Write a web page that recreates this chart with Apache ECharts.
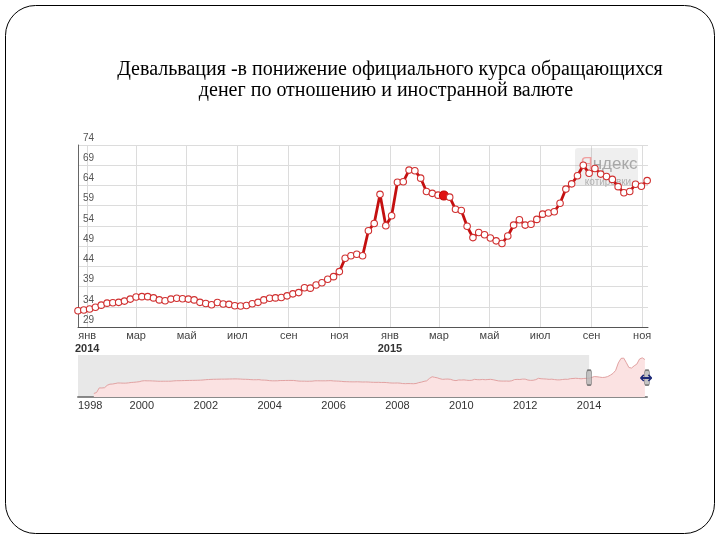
<!DOCTYPE html>
<html><head><meta charset="utf-8">
<script src="https://cdn.jsdelivr.net/npm/echarts@6/dist/echarts.min.js"></script>
<style>html,body{margin:0;padding:0;background:#fff}#c{width:720px;height:540px}</style>
</head><body><div id="c"></div>
<script>
// ---------- data ----------
const TITLE_LINES = ['Девальвация -в понижение официального курса обращающихся', 'денег по отношению и иностранной валюте'];
const MONTH_NAMES = ['янв','фев','мар','апр','май','июн','июл','авг','сен','окт','ноя','дек'];
const MAIN_TICKS = ['2014-01-01','2014-03-01','2014-05-01','2014-07-01','2014-09-01','2014-11-01',
                    '2015-01-01','2015-03-01','2015-05-01','2015-07-01','2015-09-01','2015-11-01'];
const MAIN_RANGE = ['2013-12-21','2015-11-08'];
const Y_MIN = 29, Y_MAX = 74, Y_STEP = 5;
const WEEK_START = '2013-12-21';
const WEEKLY_RATE = [
  33.0, 33.2, 33.45, 33.9, 34.4, 34.9, 35.0, 35.1, 35.4, 35.9,
  36.4, 36.5, 36.5, 36.2, 35.7, 35.5, 35.9, 36.1, 36.0, 35.9,
  35.7, 35.1, 34.8, 34.5, 35.05, 34.7, 34.6, 34.25, 34.2, 34.3,
  34.75, 35.1, 35.7, 36.1, 36.2, 36.3, 36.7, 37.2, 37.5, 38.7,
  38.6, 39.4, 39.95, 40.8, 41.45, 42.7, 46.0, 46.6, 47.0, 46.6,
  52.8, 54.6, 61.8, 54.05, 56.5, 64.8, 64.9, 67.8, 67.65, 65.8,
  62.5, 62.05, 61.6, 61.5, 61.1, 58.1, 57.8, 53.9, 51.1, 52.35,
  51.8, 51.0, 50.3, 49.65, 51.5, 54.2, 55.5, 54.2, 54.4, 55.6,
  56.9, 57.2, 57.5, 59.6, 63.1, 64.4, 66.4, 69.0, 67.0, 68.2,
  66.8, 66.2, 65.5, 63.7, 62.2, 62.5, 64.3, 63.8, 65.2
];
const HIGHLIGHT_INDEX = 63;

const NAV_YEARS = [1998, 2000, 2002, 2004, 2006, 2008, 2010, 2012, 2014];
const NAV_RANGE = ['1998-01-01', '2015-10-25'];
const NAV_SELECTED = ['2014-01-01', '2015-10-25'];
const NAV_HANDLE_LEVEL = 34;
const NAV_START = '1998-07-01';
const MONTHLY_RATE = [
  6.2, 7.9, 16.0, 15.9, 16.4, 20.6,
  22.6, 22.9, 23.7, 24.7, 24.6, 24.4, 24.4, 24.9, 25.6, 25.9, 26.4, 26.9,
  28.2, 28.7, 28.5, 28.5, 28.3, 28.1, 27.8, 27.7, 27.8, 27.8, 27.8, 27.9,
  28.4, 28.7, 28.7, 28.8, 29.0, 29.1, 29.2, 29.3, 29.4, 29.5, 29.7, 30.0,
  30.5, 30.8, 31.0, 31.2, 31.3, 31.4, 31.5, 31.5, 31.6, 31.7, 31.8, 31.9,
  31.8, 31.6, 31.3, 31.2, 31.0, 30.6, 30.4, 30.4, 30.6, 29.9, 29.8, 29.5,
  28.8, 28.5, 28.5, 28.6, 29.0, 29.0, 29.1, 29.2, 29.2, 29.1, 28.6, 28.0,
  27.9, 27.9, 27.7, 27.8, 27.9, 28.5, 28.6, 28.5, 28.5, 28.5, 28.7, 28.8,
  28.3, 28.1, 27.9, 27.6, 27.1, 27.0, 26.8, 26.7, 26.7, 26.8, 26.6, 26.4,
  26.5, 26.4, 26.1, 25.9, 25.8, 25.9, 25.6, 25.7, 25.4, 24.9, 24.6, 24.6,
  24.7, 24.4, 23.7, 23.5, 23.7, 23.6, 23.4, 23.8, 25.3, 26.2, 27.6, 28.5,
  32.7, 35.7, 34.7, 33.8, 32.2, 31.1, 31.5, 31.6, 31.1, 29.5, 28.9, 30.0,
  29.9, 30.2, 29.6, 29.2, 29.5, 31.1, 30.6, 30.4, 30.9, 30.4, 30.8, 31.1,
  30.4, 29.3, 28.4, 28.1, 28.0, 28.1, 27.9, 28.6, 30.7, 31.0, 30.8, 31.5,
  31.5, 29.9, 29.3, 29.5, 30.6, 32.9, 32.2, 31.9, 31.6, 31.1, 31.4, 30.7,
  30.2, 30.2, 30.8, 31.3, 31.1, 32.3, 32.6, 33.0, 32.6, 32.1, 32.6, 32.9,
  33.0, 34.5, 36.0, 35.7, 35.0, 34.4, 34.7, 36.0, 38.5, 41.5, 47.0, 60.0,
  68.0, 68.5, 61.0, 52.0, 51.0, 55.0, 58.0, 67.0, 69.0, 66.0
];

// ---------- helpers ----------
function utc(s) { const p = s.split('-').map(Number); return Date.UTC(p[0], (p[1] || 1) - 1, p[2] || 1); }
const DAY = 86400000;
function weekDate(i) { return utc(WEEK_START) + i * 7 * DAY; }
function monthDate(i) { const d = new Date(utc(NAV_START)); return Date.UTC(d.getUTCFullYear(), d.getUTCMonth() + i, 1); }

const mainData = WEEKLY_RATE.map(function (v, i) {
  const item = { value: [weekDate(i), v] };
  if (i === HIGHLIGHT_INDEX) {
    item.symbolSize = 9;
    item.itemStyle = { color: '#e01010', borderColor: '#c00000' };
  }
  return item;
});
const navData = MONTHLY_RATE.map(function (v, i) { return [monthDate(i), v]; });
const mainTickValues = MAIN_TICKS.map(utc);
const navTickValues = NAV_YEARS.map(function (y) { return Date.UTC(y, 0, 1); });

const chart = echarts.init(document.getElementById('c'), null, { renderer: 'canvas' });
chart.setOption({
  animation: false,
  backgroundColor: '#fff',
  grid: [
    { left: 78, top: 145, width: 570, height: 182 },
    { left: 78, top: 355, width: 569, height: 42 }
  ],
  xAxis: [
    {
      type: 'value', gridIndex: 0,
      min: utc(MAIN_RANGE[0]), max: utc(MAIN_RANGE[1]),
      axisLine: { show: true, lineStyle: { color: '#555', width: 1 } },
      axisTick: { show: false, customValues: mainTickValues },
      splitLine: { show: true, lineStyle: { color: '#dcdcdc', width: 1 } },
      axisLabel: {
        customValues: mainTickValues,
        margin: 3,
        formatter: function (val) {
          const d = new Date(val), m = d.getUTCMonth();
          return m === 0 ? '{m|' + MONTH_NAMES[m] + '}\n{y|' + d.getUTCFullYear() + '}' : '{m|' + MONTH_NAMES[m] + '}';
        },
        rich: {
          m: { fontFamily: 'Liberation Sans', fontSize: 11, color: '#444', lineHeight: 12 },
          y: { fontFamily: 'Liberation Sans', fontSize: 11, fontWeight: 'bold', color: '#333', lineHeight: 13 }
        }
      }
    },
    {
      type: 'value', gridIndex: 1,
      min: utc(NAV_RANGE[0]), max: utc(NAV_RANGE[1]),
      axisLine: { show: true, lineStyle: { color: '#8a8a8a', width: 2 } },
      axisTick: { show: false, customValues: navTickValues },
      splitLine: { show: false },
      axisLabel: {
        customValues: navTickValues,
        formatter: function (v) { return String(new Date(v).getUTCFullYear()); },
        alignMinLabel: 'left',
        margin: 3,
        fontFamily: 'Liberation Sans', fontSize: 11, color: '#333'
      }
    }
  ],
  yAxis: [
    {
      type: 'value', gridIndex: 0, min: Y_MIN, max: Y_MAX, interval: Y_STEP,
      axisLine: { show: true, lineStyle: { color: '#666', width: 1 } },
      axisTick: { show: false },
      splitLine: { show: true, lineStyle: { color: '#dcdcdc', width: 1 } },
      axisLabel: {
        inside: true, margin: 5, verticalAlign: 'bottom', padding: [0, 0, 2, 0],
        fontFamily: 'Liberation Sans', fontSize: 10, color: '#555'
      }
    },
    { type: 'value', gridIndex: 1, min: 0, max: 74, show: false }
  ],
  series: [
    {
      type: 'line', xAxisIndex: 0, yAxisIndex: 0,
      data: mainData,
      symbol: 'circle', symbolSize: 6.5, showSymbol: true, showAllSymbol: true,
      lineStyle: { color: '#c41010', width: 2.8 },
      itemStyle: { color: '#fff', borderColor: '#d03030', borderWidth: 1.1 },
      z: 3
    },
    {
      type: 'line', xAxisIndex: 1, yAxisIndex: 1,
      data: navData, symbol: 'none',
      lineStyle: { color: '#e2a2a2', width: 1 },
      areaStyle: { color: '#fbe2e2', opacity: 1 },
      markArea: {
        silent: true,
        itemStyle: { color: 'rgba(110,110,110,0.16)' },
        data: [[{ xAxis: utc(NAV_RANGE[0]) }, { xAxis: utc(NAV_SELECTED[0]) }]]
      }
    },
    {
      type: 'scatter', xAxisIndex: 1, yAxisIndex: 1, clip: false,
      data: NAV_SELECTED.map(function (s) { return [utc(s), NAV_HANDLE_LEVEL]; }),
      symbol: 'roundRect', symbolSize: [5, 15],
      itemStyle: { color: '#b5b5b5', borderColor: '#666', borderWidth: 1 },
      z: 5
    }
  ],
  graphic: [
    { type: 'rect', shape: { x: 5.5, y: 5.5, width: 709, height: 528, r: 30 },
      style: { fill: 'none', stroke: '#000', lineWidth: 1 }, z: 10 },
    { type: 'text', x: 390, y: 70, style: { text: TITLE_LINES[0], font: '20px "Liberation Serif"', fill: '#000', textAlign: 'center', textVerticalAlign: 'middle' } },
    { type: 'text', x: 386, y: 91, style: { text: TITLE_LINES[1], font: '20px "Liberation Serif"', fill: '#000', textAlign: 'center', textVerticalAlign: 'middle' } },
    { type: 'rect', shape: { x: 575, y: 148, width: 63, height: 38, r: 3 }, style: { fill: 'rgba(120,120,120,0.12)' }, z: 1 },
    { type: 'text', x: 609, y: 164, style: { text: '{a|Я}{b|ндекс}', rich: { a: { fontSize: 17, fill: '#f0a0a0', fontFamily: 'Liberation Sans' }, b: { fontSize: 17, fill: '#a8a8a8', fontFamily: 'Liberation Sans' } }, align: 'center', verticalAlign: 'middle' }, z: 2 },
    { type: 'text', x: 608, y: 182, style: { text: 'котировки', font: '10px "Liberation Sans"', fill: '#b0b0b0', align: 'center', verticalAlign: 'middle' }, z: 2 },
    { type: 'text', x: 646, y: 379, style: { text: '↔', font: 'bold 16px "DejaVu Sans"', fill: '#1e2a78', align: 'center', verticalAlign: 'middle' }, z: 20 }
  ]
});
</script></body></html>
